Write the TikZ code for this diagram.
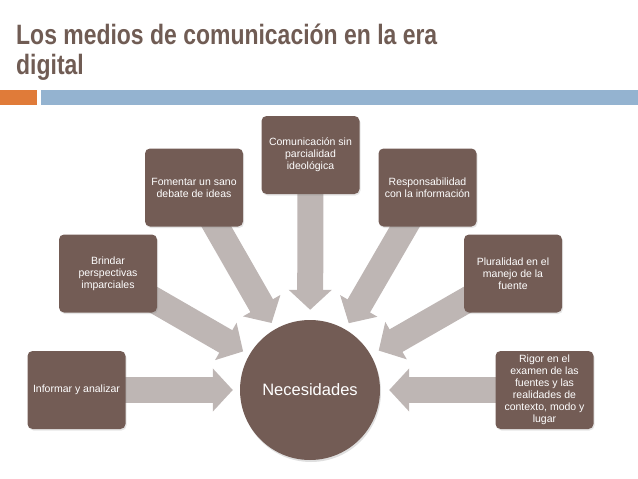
\documentclass[tikz,border=0pt]{standalone}
\usepackage{fontspec}
\setmainfont{Liberation Sans}
\usepackage{graphicx}
\usepackage{xcolor}
\usetikzlibrary{arrows.meta, backgrounds, shadows}

\definecolor{cafe}{RGB}{115,92,85}
\definecolor{titulo}{RGB}{112,92,84}
\definecolor{flecha}{RGB}{190,182,180}
\definecolor{naranja}{RGB}{224,123,57}
\definecolor{celeste}{RGB}{148,179,208}

\begin{document}
\begin{tikzpicture}[x=1pt, y=-1pt,
		caja/.style={fill=cafe, rounded corners=5pt, minimum width=98pt, minimum height=78pt,
			text=white, align=center, inner sep=2pt, font=\fontsize{10.5}{12}\selectfont,
			drop shadow={opacity=0.2, shadow xshift=1pt, shadow yshift=-1.5pt}},
		bloque/.style={draw=flecha, line width=26pt, shorten >=7pt,
			-{Triangle[width=42pt, length=20pt]}}]
			
			\useasboundingbox (0,0) rectangle (638,479);
			
			% Titolo
			\node[anchor=base west, text=titulo, inner sep=0pt] (tit1) at (16,45)
				{\scalebox{0.82}[1]{\fontsize{28}{30}\selectfont\bfseries Los medios de comunicación en la era}};
			\node[anchor=base west, text=titulo, inner sep=0pt] (tit2) at (16,74)
				{\scalebox{0.82}[1]{\fontsize{28}{30}\selectfont\bfseries digital}};
			
			% Barre sotto il titolo
			\fill[naranja] (0,90) rectangle (37,105);
			\fill[celeste] (41,90) rectangle (638,105);
			
			% Cerchio centrale
			\node[circle, fill=cafe, minimum size=140pt, text=white, font=\fontsize{16.5}{18}\selectfont,
				drop shadow={opacity=0.25, shadow xshift=1pt, shadow yshift=-2pt}] (nec) at (310,390) {Necesidades};
			
			% Riquadri
			\node[caja] (informar) at (76.5,390) {Informar y analizar};
			\node[caja] (brindar) at (108,273.5) {Brindar\\perspectivas\\imparciales};
			\node[caja] (fomentar) at (194,187.5) {Fomentar un sano\\debate de ideas};
			\node[caja] (comunic) at (310.5,155) {Comunicación sin\\parcialidad\\ideológica};
			\node[caja] (respons) at (427.5,187.5) {Responsabilidad\\con la información};
			\node[caja] (plural) at (513,273.5) {Pluralidad en el\\manejo de la\\fuente};
			\node[caja] (rigor) at (544.5,390) {Rigor en el\\examen de las\\fuentes y las\\realidades de\\contexto, modo y\\lugar};
			
			% Frecce verso il cerchio
			\begin{pgfonlayer}{background}
				\draw[bloque] (informar.center) -- (nec);
				\draw[bloque] (brindar.center) -- (nec);
				\draw[bloque] (fomentar.center) -- (nec);
				\draw[bloque, shorten >=10pt] (comunic.center) -- (nec);
				\draw[bloque] (respons.center) -- (nec);
				\draw[bloque, shorten >=9pt] (plural.center) -- (nec);
				\draw[bloque, shorten >=9pt] (rigor.center) -- (nec);
			\end{pgfonlayer}
			
		\end{tikzpicture}
\end{document}
